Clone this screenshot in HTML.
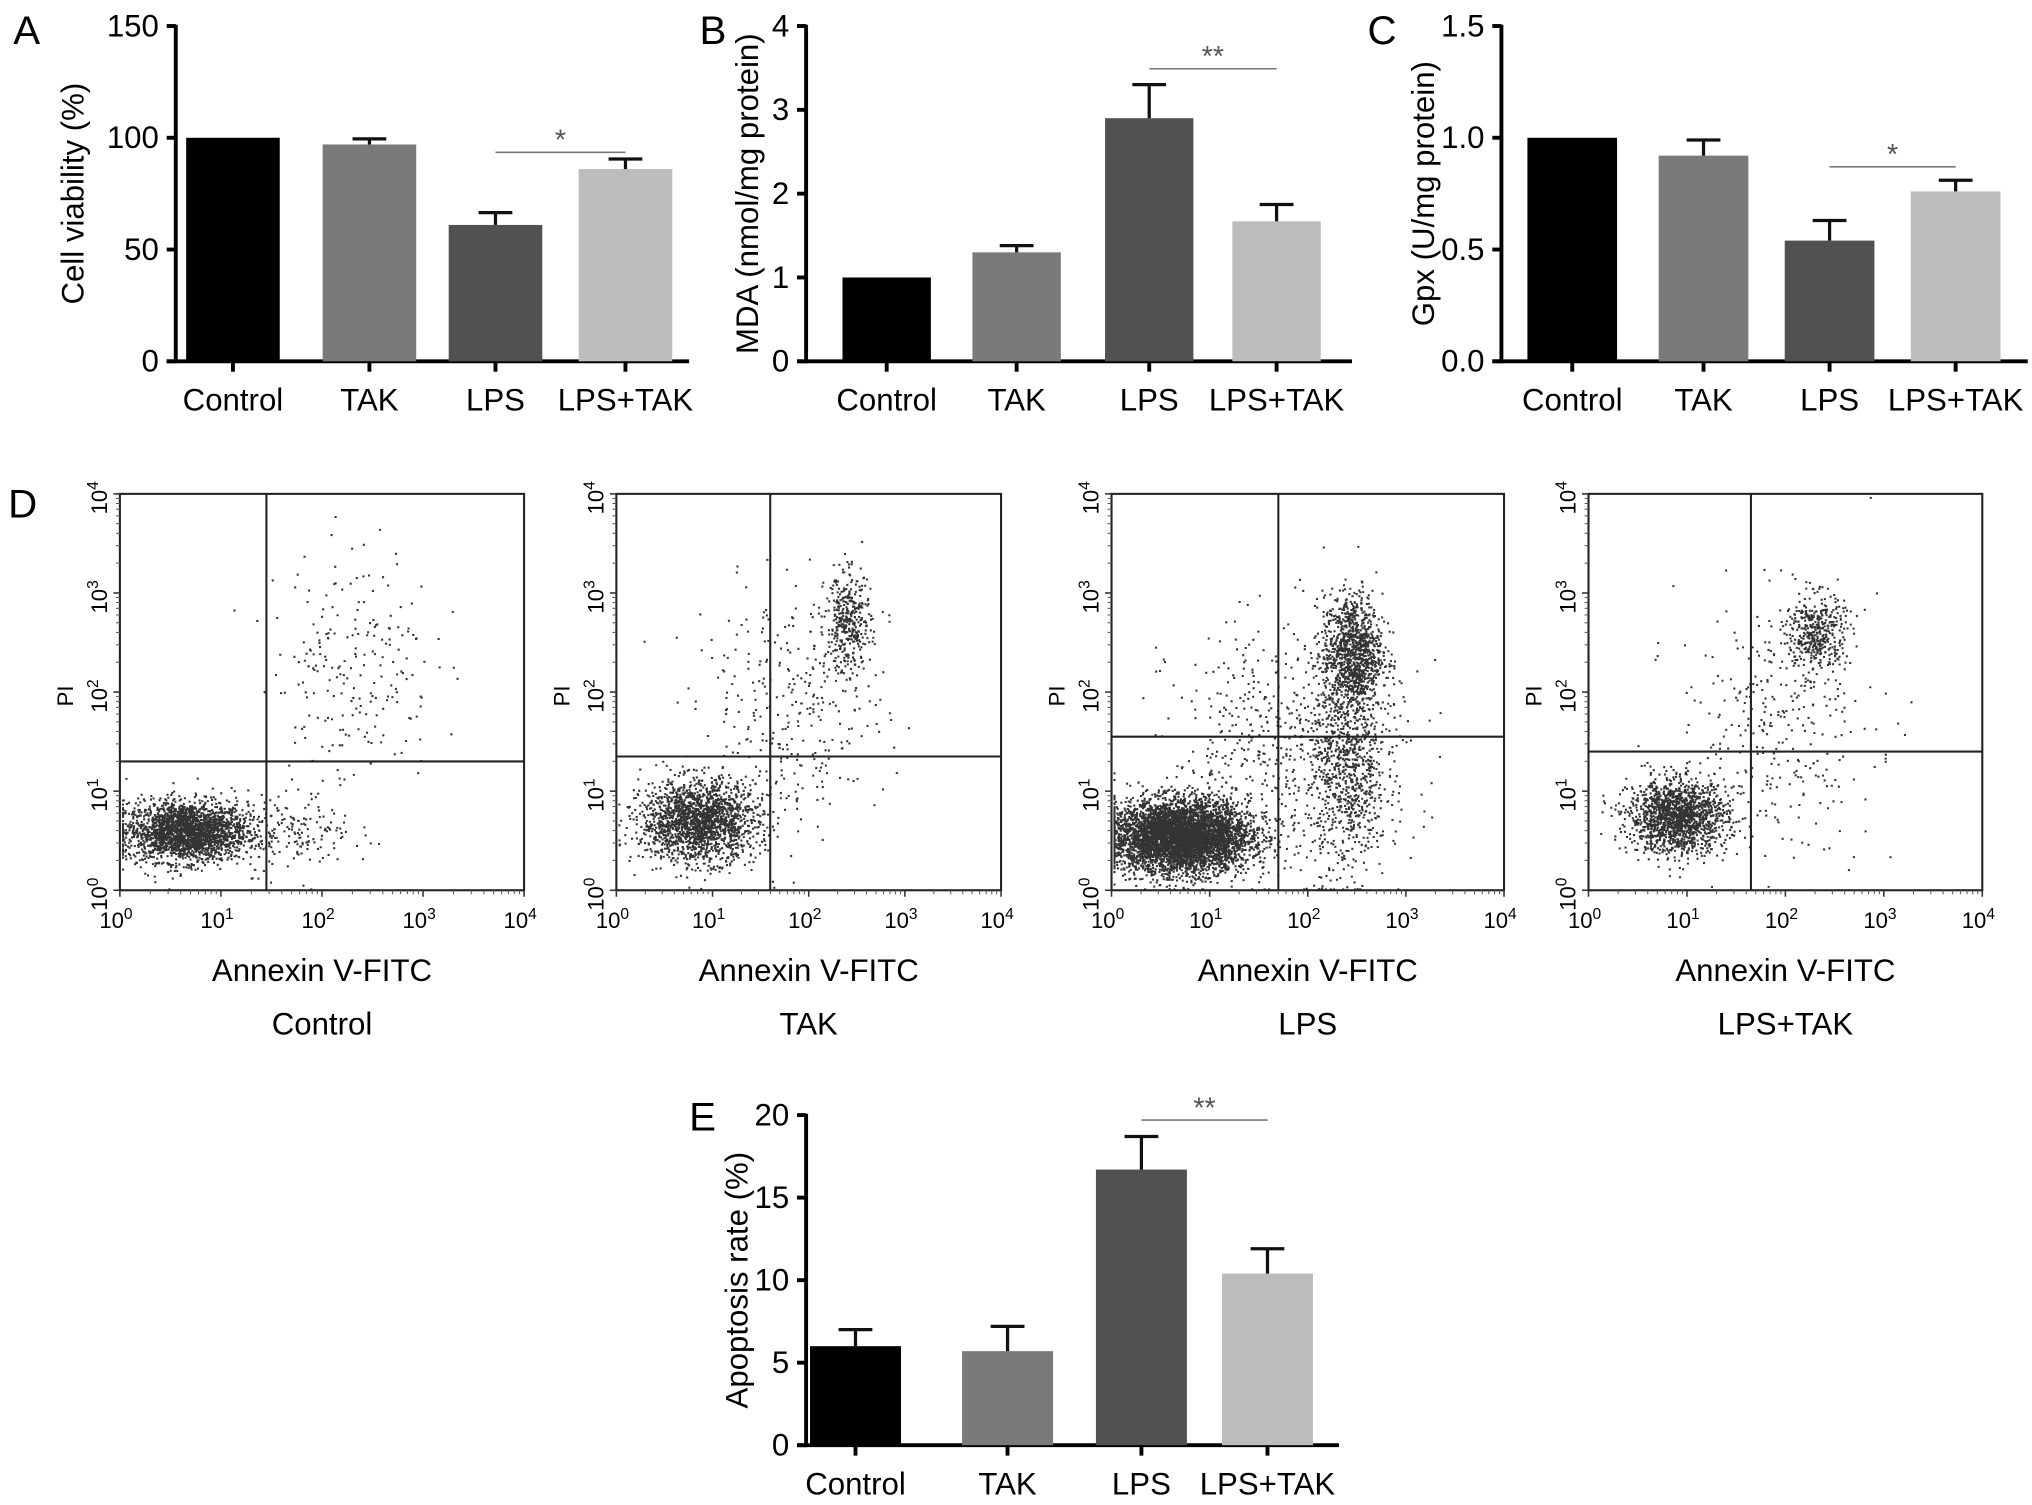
<!DOCTYPE html>
<html><head><meta charset="utf-8"><style>
html,body{margin:0;padding:0;background:#fff;}
svg{display:block;font-family:"Liberation Sans",Arial,sans-serif;}
</style></head><body>
<svg id="fig" width="2032" height="1505" viewBox="0 0 1563 1158" xmlns="http://www.w3.org/2000/svg">
<rect width="1563" height="1158" fill="#fff"/>
<g id="root"></g>
</svg>
<script>
// ---------- Data ----------
const groups = ["Control","TAK","LPS","LPS+TAK"];
const viabilityVals = [100, 97, 61, 86];
const viabilityErr = [0, 2.5, 5.5, 4.5];
const mdaVals = [1.0, 1.3, 2.9, 1.67];
const mdaErr = [0, 0.08, 0.4, 0.2];
const gpxVals = [1.0, 0.92, 0.54, 0.76];
const gpxErr = [0, 0.07, 0.09, 0.05];
const apoVals = [6.0, 5.7, 16.7, 10.4];
const apoErr = [1.0, 1.5, 2.0, 1.5];
const viabilityTicks = [0, 50, 100, 150];
const mdaTicks = [0, 1, 2, 3, 4];
const gpxTicks = [0.0, 0.5, 1.0, 1.5];
const apoTicks = [0, 5, 10, 15, 20];
const barColors = ["#000000","#7a7a7a","#515151","#bcbcbc"];
// flow-cytometry populations per sample: [centerX(log10), centerY(log10), sdX, sdY, count]
const flowControl = [[0.65,0.6,0.3,0.15,2400],[2.3,2.3,0.4,0.6,220],[1.7,0.6,0.3,0.2,170]];
const flowTAK = [[0.85,0.7,0.3,0.2,1900],[2.4,2.7,0.12,0.25,380],[1.8,1.8,0.5,0.6,320]];
const flowLPS = [[0.7,0.55,0.35,0.18,6500],[2.45,2.4,0.15,0.3,1100],[2.4,1.2,0.2,0.5,800],[1.8,1.5,0.6,0.6,550]];
const flowLPSTAK = [[0.9,0.75,0.25,0.18,1600],[2.3,2.6,0.15,0.2,420],[1.9,1.7,0.5,0.6,320]];
const flowGateX = [1.45, 1.6, 1.7, 1.65];
const flowGateY = [1.3, 1.35, 1.55, 1.4];

const NS="http://www.w3.org/2000/svg";
const root=document.getElementById('root');
function el(tag,attrs,parent,text){const e=document.createElementNS(NS,tag);for(const k in attrs)e.setAttribute(k,attrs[k]);if(text!==undefined)e.textContent=text;(parent||root).appendChild(e);return e;}

function barChart(o){
  const g=el('g',{});
  
  
  const y=v=>o.y0-(v-o.min)/(o.max-o.min)*(o.y0-o.y1);
  const t=el('text',{x:o.letterX,y:o.letterY,'font-size':31},g,o.letter);
  
  
  const ax=el('line',{x1:o.ax,y1:o.y1-1,x2:o.ax,y2:o.y0+1.5,stroke:'#000','stroke-width':3},g);
  
  
  const xa=el('line',{x1:o.ax-7,y1:o.y0,x2:o.axEnd,y2:o.y0,stroke:'#000','stroke-width':3},g);
  
  
  o.ticks.forEach(v=>{
    el('line',{x1:o.ax-7,y1:y(v),x2:o.ax,y2:y(v),stroke:'#000','stroke-width':3},g);
    const tl=el('text',{x:o.ax-13,y:y(v)+8,'font-size':24,'text-anchor':'end'},g,o.fmt(v));
    
    
  });
  const yt=el('text',{x:o.titleX,y:(o.y0+o.y1)/2,'font-size':24,'text-anchor':'middle',transform:`rotate(-90 ${o.titleX} ${(o.y0+o.y1)/2})`},g,o.title);
  
  
  groups.forEach((name,i)=>{
    const x0=o.barX[i], w=o.barW, cx=x0+w/2;
    const r=el('rect',{x:x0,y:y(o.vals[i]),width:w,height:o.y0-y(o.vals[i]),fill:barColors[i]},g);
    
    
    if(o.err[i]>0){
      const yt2=y(o.vals[i]+o.err[i]);
      el('line',{x1:cx,y1:y(o.vals[i]),x2:cx,y2:yt2,stroke:'#111','stroke-width':2.5},g);
      el('line',{x1:cx-13,y1:yt2,x2:cx+13,y2:yt2,stroke:'#111','stroke-width':2.5},g);
    }
    el('line',{x1:cx,y1:o.y0,x2:cx,y2:o.y0+8,stroke:'#000','stroke-width':3},g);
    const xl=el('text',{x:cx,y:o.y0+38,'font-size':24,'text-anchor':'middle'},g,name);
    
    
  });
  const s0=o.barX[2]+o.barW/2, s1=o.barX[3]+o.barW/2, sy=y(o.sig);
  const sl=el('line',{x1:s0,y1:sy,x2:s1,y2:sy,stroke:'#777','stroke-width':1.2},g);
  
  
  const st=el('text',{x:(s0+s1)/2,y:sy-2,'font-size':22,'text-anchor':'middle',fill:'#555'},g,o.stars);
  
  
}

barChart({name:'cell-viability-chart',letter:'A',letterX:10,letterY:34,ax:135,axEnd:530,y0:278,y1:20,min:0,max:150,ticks:viabilityTicks,fmt:v=>String(v),
  title:'Cell viability (%)',titleX:64,vals:viabilityVals,err:viabilityErr,barX:[143,248,345,445],barW:72,sig:93.5,stars:'*'});
barChart({name:'mda-chart',letter:'B',letterX:538,letterY:34,ax:620,axEnd:1040,y0:278,y1:20,min:0,max:4,ticks:mdaTicks,fmt:v=>String(v),
  title:'MDA (nmol/mg protein)',titleX:583,vals:mdaVals,err:mdaErr,barX:[648,748,850,948],barW:68,sig:3.49,stars:'**'});
barChart({name:'gpx-chart',letter:'C',letterX:1052,letterY:34,ax:1155,axEnd:1560,y0:278,y1:20,min:0,max:1.5,ticks:gpxTicks,fmt:v=>v.toFixed(1),
  title:'Gpx (U/mg protein)',titleX:1103,vals:gpxVals,err:gpxErr,barX:[1175,1276,1373,1470],barW:69,sig:0.87,stars:'*'});
barChart({name:'apoptosis-chart',letter:'E',letterX:530,letterY:870,ax:620,axEnd:1030,y0:1112,y1:858,min:0,max:20,ticks:apoTicks,fmt:v=>String(v),
  title:'Apoptosis rate (%)',titleX:575,vals:apoVals,err:apoErr,barX:[623,740,843,940],barW:70,sig:19.7,stars:'**'});

{const t=el('text',{x:6,y:398,'font-size':31},root,'D');

}

let seed=12345;
function rnd(){seed=(seed*1103515245+12345)%2147483648;return seed/2147483648;}
function gauss(){let u=rnd()||1e-9,v=rnd();return Math.sqrt(-2*Math.log(u))*Math.cos(2*Math.PI*v);}

function flowPlot(o){
  const g=el('g',{});
  
  
  const X=v=>o.x0+v/4*(o.x1-o.x0), Y=v=>o.y0-v/4*(o.y0-o.y1);
  let d='';
  o.pops.forEach(p=>{
    for(let i=0;i<p[4];i++){
      let lx=p[0]+gauss()*p[2], ly=p[1]+gauss()*p[3];
      lx=Math.max(0.02,Math.min(3.97,lx)); ly=Math.max(0.02,Math.min(3.97,ly));
      d+=`M${X(lx).toFixed(1)} ${Y(ly).toFixed(1)}h1.6v1.6h-1.6z`;
    }
  });
  const pts=el('path',{d:d,fill:'#000','fill-opacity':0.8},g);
  
  
  const box=el('rect',{x:o.x0,y:o.y1,width:o.x1-o.x0,height:o.y0-o.y1,fill:'none',stroke:'#222','stroke-width':1.6},g);
  
  
  const gv=el('line',{x1:X(o.gx),y1:o.y1,x2:X(o.gx),y2:o.y0,stroke:'#222','stroke-width':1.6},g);
  
  
  const gh=el('line',{x1:o.x0,y1:Y(o.gy),x2:o.x1,y2:Y(o.gy),stroke:'#222','stroke-width':1.6},g);
  
  
  for(let k=0;k<=4;k++){
    el('line',{x1:X(k),y1:o.y0,x2:X(k),y2:o.y0+5,stroke:'#333','stroke-width':1.2},g);
    el('line',{x1:o.x0-5,y1:Y(k),x2:o.x0,y2:Y(k),stroke:'#333','stroke-width':1.2},g);
    if(k<4)for(let m=2;m<10;m++){const f=k+Math.log10(m);
      el('line',{x1:X(f),y1:o.y0,x2:X(f),y2:o.y0+3,stroke:'#555','stroke-width':0.8},g);
      el('line',{x1:o.x0-3,y1:Y(f),x2:o.x0,y2:Y(f),stroke:'#555','stroke-width':0.8},g);}
    const tx=el('text',{x:X(k)-3,y:o.y0+29,'font-size':17,'text-anchor':'middle'},g);
    
    
    el('tspan',{},tx,'10'); el('tspan',{dy:-7,'font-size':12},tx,String(k));
    const ty=el('text',{x:0,y:0,'font-size':17,'text-anchor':'middle',transform:`translate(${o.x0-10} ${Y(k)+3}) rotate(-90)`},g);
    
    
    el('tspan',{},ty,'10'); el('tspan',{dy:-7,'font-size':12},ty,String(k));
  }
  const pi=el('text',{x:0,y:0,'font-size':17,'text-anchor':'middle',transform:`translate(${o.x0-36} ${(o.y0+o.y1)/2+3}) rotate(-90)`},g,'PI');
  
  
  const cx=(o.x0+o.x1)/2;
  const xt=el('text',{x:cx,y:755,'font-size':24,'text-anchor':'middle'},g,'Annexin V-FITC');
  
  
  const gt=el('text',{x:cx,y:796,'font-size':24,'text-anchor':'middle'},g,o.label);
  
  
}
flowPlot({name:'flow-control',label:'Control',x0:92,x1:403,y0:685,y1:380,pops:flowControl,gx:flowGateX[0],gy:flowGateY[0]});
flowPlot({name:'flow-tak',label:'TAK',x0:474,x1:770,y0:685,y1:380,pops:flowTAK,gx:flowGateX[1],gy:flowGateY[1]});
flowPlot({name:'flow-lps',label:'LPS',x0:855,x1:1157,y0:685,y1:380,pops:flowLPS,gx:flowGateX[2],gy:flowGateY[2]});
flowPlot({name:'flow-lps-tak',label:'LPS+TAK',x0:1222,x1:1525,y0:685,y1:380,pops:flowLPSTAK,gx:flowGateX[3],gy:flowGateY[3]});
</script>
</body></html>
